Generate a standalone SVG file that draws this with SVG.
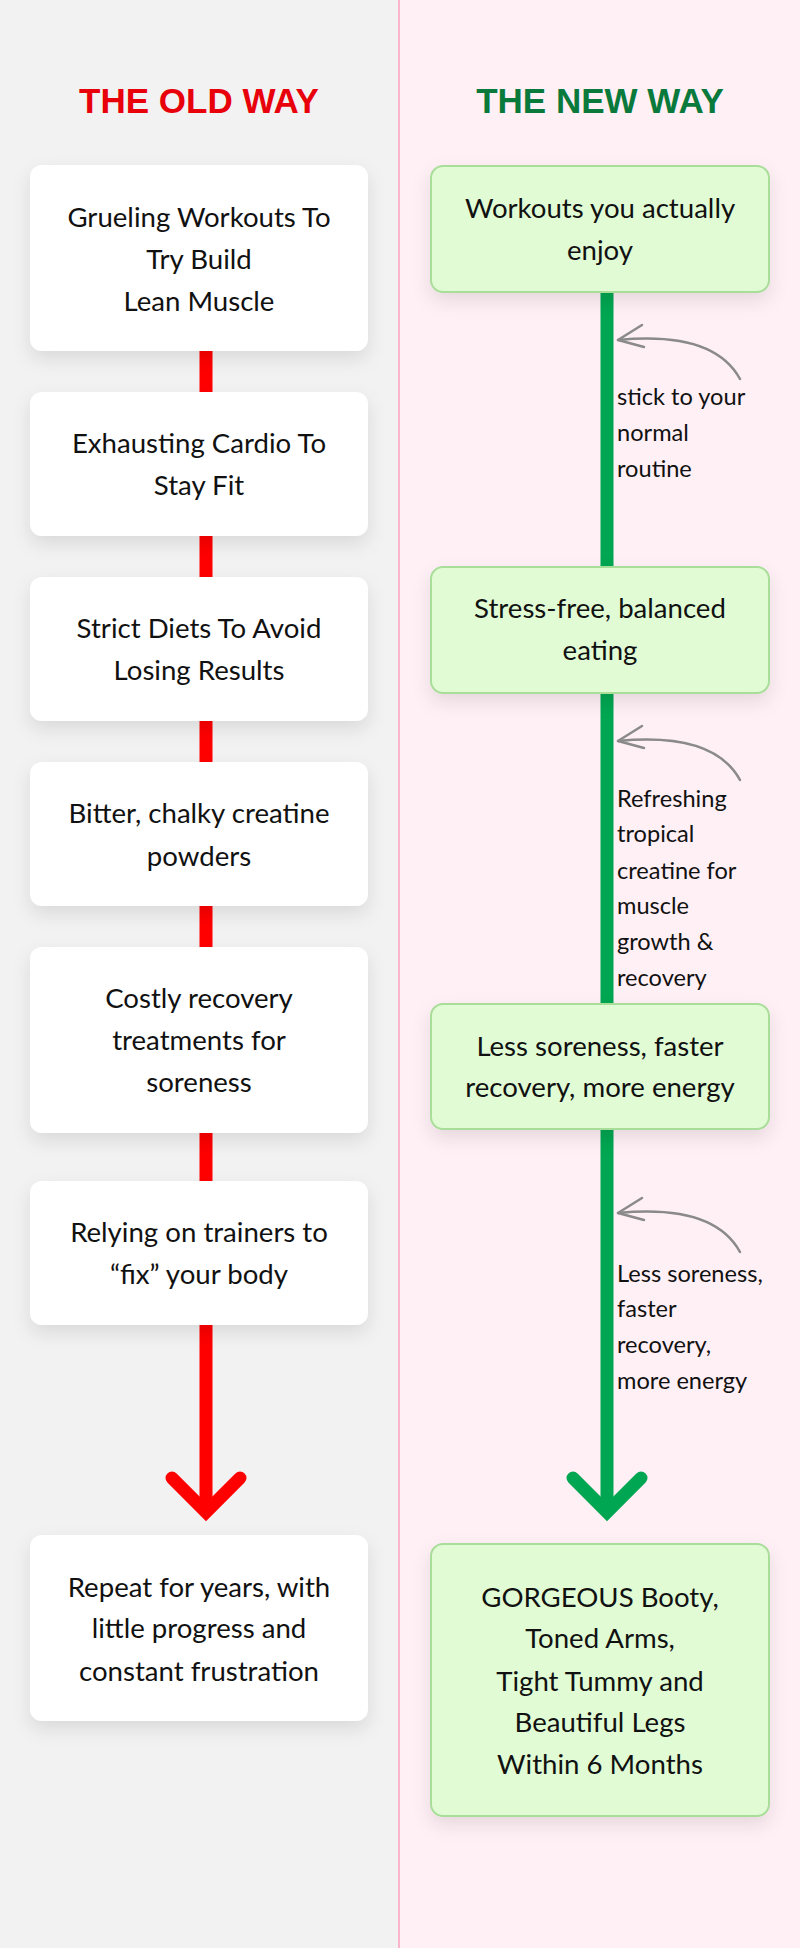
<svg xmlns="http://www.w3.org/2000/svg" width="800" height="1948" viewBox="0 0 800 1948">
  <style>
    .title{font-family:"Liberation Sans",Arial,sans-serif;font-weight:bold;font-size:35px;text-anchor:middle}
    .old{fill:#e8000b}
    .new{fill:#0a7a3c}
    .card{fill:#ffffff;filter:url(#sh)}
    .gcard{fill:#e1fcd5;stroke:#a9dd9a;stroke-width:2;filter:url(#sh)}
    .t{font-family:Lato,"Noto Sans",sans-serif;font-size:27.6px;fill:#111;text-anchor:middle}
    .lbl{font-family:Lato,"Noto Sans",sans-serif;font-size:23.6px;fill:#111}
    .red{stroke:#ff0000;stroke-width:13;fill:none}
    .grn{stroke:#00a651;stroke-width:13;fill:none}
    .chev{stroke-linecap:round;stroke-linejoin:miter}
    .note{stroke:#8a8a8a;stroke-width:2.5;fill:none;stroke-linecap:round;stroke-linejoin:round}
  </style>
  <defs>
    <filter id="sh" x="-10%" y="-20%" width="120%" height="150%">
      <feDropShadow dx="0" dy="8" stdDeviation="9" flood-color="#000" flood-opacity="0.1"/>
    </filter>
    <g id="curl">
      <path d="M740 39 C722 6 680 -6 618 0"/>
      <path d="M642 -15 L618 0 L644 7"/>
    </g>
  </defs>

  <rect x="0" y="0" width="399" height="1948" fill="#f2f2f2"/>
  <rect x="399" y="0" width="401" height="1948" fill="#fff0f5"/>
  <rect x="398" y="0" width="2" height="1948" fill="#f8b5cb"/>

  <text class="title old" x="199" y="113">THE OLD WAY</text>
  <text class="title new" x="600" y="113">THE NEW WAY</text>

  <g id="connectors">
    <path class="red" d="M206 350 V393 M206 535 V578 M206 720 V763 M206 905 V948 M206 1132 V1182 M206 1324 V1512"/>
    <path class="red chev" d="M172 1478 L206 1512 L240 1478"/>
    <path class="grn" d="M607 291 V568 M607 692 V1005 M607 1128 V1512"/>
    <path class="grn chev" d="M573 1478 L607 1512 L641 1478"/>
    <use href="#curl" class="note" transform="translate(0,340)"/>
    <use href="#curl" class="note" transform="translate(0,741)"/>
    <use href="#curl" class="note" transform="translate(0,1213)"/>
  </g>

  <g id="old1"><rect class="card" x="30" y="165" width="338" height="186" rx="12"/>
    <text class="t" x="199" y="227">Grueling Workouts To</text>
    <text class="t" x="199" y="269">Try Build</text>
    <text class="t" x="199" y="311">Lean Muscle</text></g>
  <g id="old2"><rect class="card" x="30" y="392" width="338" height="144" rx="12"/>
    <text class="t" x="199" y="453">Exhausting Cardio To</text>
    <text class="t" x="199" y="495">Stay Fit</text></g>
  <g id="old3"><rect class="card" x="30" y="577" width="338" height="144" rx="12"/>
    <text class="t" x="199" y="638">Strict Diets To Avoid</text>
    <text class="t" x="199" y="680">Losing Results</text></g>
  <g id="old4"><rect class="card" x="30" y="762" width="338" height="144" rx="12"/>
    <text class="t" x="199" y="823">Bitter, chalky creatine</text>
    <text class="t" x="199" y="866">powders</text></g>
  <g id="old5"><rect class="card" x="30" y="947" width="338" height="186" rx="12"/>
    <text class="t" x="199" y="1008">Costly recovery</text>
    <text class="t" x="199" y="1050">treatments for</text>
    <text class="t" x="199" y="1092">soreness</text></g>
  <g id="old6"><rect class="card" x="30" y="1181" width="338" height="144" rx="12"/>
    <text class="t" x="199" y="1242">Relying on trainers to</text>
    <text class="t" x="199" y="1284">“fix” your body</text></g>
  <g id="old7"><rect class="card" x="30" y="1535" width="338" height="186" rx="12"/>
    <text class="t" x="199" y="1597">Repeat for years, with</text>
    <text class="t" x="199" y="1638">little progress and</text>
    <text class="t" x="199" y="1681">constant frustration</text></g>

  <g id="new1"><rect class="gcard" x="431" y="166" width="338" height="126" rx="12"/>
    <text class="t" x="600" y="218">Workouts you actually</text>
    <text class="t" x="600" y="260">enjoy</text></g>
  <g id="new2"><rect class="gcard" x="431" y="567" width="338" height="126" rx="12"/>
    <text class="t" x="600" y="618">Stress-free, balanced</text>
    <text class="t" x="600" y="660">eating</text></g>
  <g id="new3"><rect class="gcard" x="431" y="1004" width="338" height="125" rx="12"/>
    <text class="t" x="600" y="1056">Less soreness, faster</text>
    <text class="t" x="600" y="1097">recovery, more energy</text></g>
  <g id="new4"><rect class="gcard" x="431" y="1544" width="338" height="272" rx="12"/>
    <text class="t" x="600" y="1607">GORGEOUS Booty,</text>
    <text class="t" x="600" y="1648">Toned Arms,</text>
    <text class="t" x="600" y="1691">Tight Tummy and</text>
    <text class="t" x="600" y="1732">Beautiful Legs</text>
    <text class="t" x="600" y="1774">Within 6 Months</text></g>

  <g id="labels">
    <text class="lbl" x="617" y="405">stick to your</text>
    <text class="lbl" x="617" y="441">normal</text>
    <text class="lbl" x="617" y="477">routine</text>
    <text class="lbl" x="617" y="807">Refreshing</text>
    <text class="lbl" x="617" y="842">tropical</text>
    <text class="lbl" x="617" y="879">creatine for</text>
    <text class="lbl" x="617" y="914">muscle</text>
    <text class="lbl" x="617" y="950">growth &amp;</text>
    <text class="lbl" x="617" y="986">recovery</text>
    <text class="lbl" x="617" y="1282">Less soreness,</text>
    <text class="lbl" x="617" y="1317">faster</text>
    <text class="lbl" x="617" y="1353">recovery,</text>
    <text class="lbl" x="617" y="1389">more energy</text>
  </g>
</svg>
